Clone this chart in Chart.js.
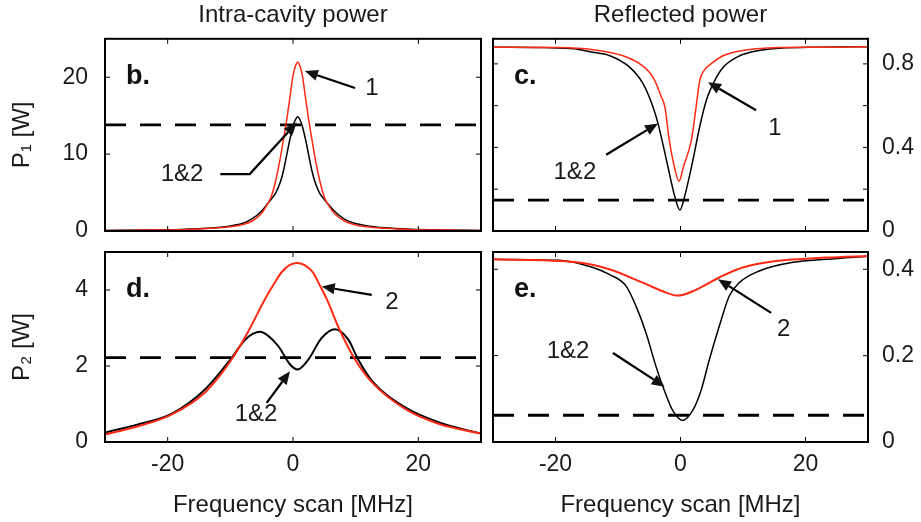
<!DOCTYPE html>
<html lang="en">
<head>
<meta charset="UTF-8" />
<title>Intra-cavity and reflected power</title>
<script src="https://cdn.jsdelivr.net/npm/chart.js"></script>
<style>
    body { margin: 0; background: #fff; }
    #wrap { position: relative; width: 921px; height: 522px; }
    canvas { position: absolute; }
</style>
</head>
<body>
<div id="wrap">
    <canvas id="chartB" style="left:0;top:0" width="487" height="240"></canvas>
    <canvas id="chartC" style="left:487px;top:0" width="434" height="240"></canvas>
    <canvas id="chartD" style="left:0;top:240px" width="487" height="282"></canvas>
    <canvas id="chartE" style="left:487px;top:240px" width="434" height="282"></canvas>
</div>

<script>
    const FONT = '"Liberation Sans", Arial, sans-serif';
    const RED = '#ff2a14';
    const INK = '#1a1a1a';

    // ticks shared by all panels
    const xTicks = [-20, 0, 20];
    const xTickLabels = ['-20', '0', '20'];

    // b. intra-cavity power P1
    const freqB = [-30, -22, -17, -13, -10, -8, -6.5, -5, -4, -3.5, -2.8, -2, -1.5, -1, -0.5, 0, 0.4, 0.75,
        1.1, 1.5, 2, 2.5, 3, 3.5, 4.2, 5, 5.7, 6.7, 8.2, 9.7, 11.7, 14.7, 18.7, 23.7, 30];
    const p1Cavity1 = [0.05, 0.12, 0.2, 0.35, 0.55, 0.85, 1.3, 2.3, 3.6, 4.4, 6.4, 9.6, 12.0, 14.5, 17.3, 20.2, 21.5, 21.95,
        21.5, 20.2, 17.3, 14.5, 12.0, 9.6, 6.8, 4.4, 3.3, 2.2, 1.3, 0.85, 0.55, 0.35, 0.2, 0.12, 0.06];
    const p1Both = [0.07, 0.14, 0.24, 0.4, 0.65, 1.0, 1.6, 2.6, 3.6, 4.1, 4.9, 6.4, 7.9, 9.9, 11.9, 13.6, 14.5, 14.86,
        14.5, 13.6, 11.9, 9.9, 7.9, 6.4, 5.0, 4.1, 3.4, 2.5, 1.55, 1.05, 0.7, 0.42, 0.24, 0.14, 0.08];
    const p1Threshold = 13.8;
    const yTicksB = [0, 10, 20];
    const yLabelsB = ['0', '10', '20'];

    // c. reflected power, cavity 1
    const freqC1 = [-30, -20, -14, -9.2, -6.5, -4.4, -3.05, -2.5, -1.8, -1, -0.25, 0.5, 1.75, 2.5, 3.07, 3.7, 5.2, 6.8, 9.5, 15.9, 22, 30];
    const refl1Cavity1 = [0.88, 0.878, 0.868, 0.839, 0.80, 0.736, 0.641, 0.594, 0.436, 0.31, 0.238, 0.31, 0.436, 0.594, 0.72, 0.765, 0.807, 0.839, 0.862, 0.878, 0.88, 0.882];
    const freqC2 = [-30, -22, -17, -14.5, -11.3, -8.1, -6, -4.4, -3.6, -2.26, -0.93, -0.1, 0.67, 2, 3.07, 4.14, 5.47, 6.8, 9.47, 12.1, 15.9, 22, 30];
    const refl1Both = [0.88, 0.878, 0.872, 0.858, 0.839, 0.783, 0.705, 0.594, 0.515, 0.341, 0.167, 0.10, 0.167, 0.341, 0.499, 0.626, 0.72, 0.783, 0.839, 0.862, 0.875, 0.88, 0.882];
    const refl1Threshold = 0.148;
    const yTicksC = [0, 0.2, 0.4, 0.6, 0.8];
    const yLabelsC = ['0', '', '0.4', '', '0.8'];

    // d. intra-cavity power P2
    const freqD1 = [-30, -25, -19.4, -14, -9.8, -7.1, -4.5, -3, -1.76, -0.5, 0.74, 2, 3.24, 4.04, 5.5, 7.2, 9.9, 12.6, 17.9, 23.2, 30];
    const p2Cavity2 = [0.2, 0.40, 0.72, 1.31, 2.17, 2.92, 3.75, 4.17, 4.48, 4.66, 4.71, 4.64, 4.45, 4.2, 3.72, 3.04, 2.17, 1.57, 0.87, 0.48, 0.22];
    const freqD2 = [-30, -25, -19.4, -14, -9.8, -7.6, -5.27, -4, -2.33, -0.47, 0.74, 2.45, 4.58, 6.7, 8.8, 10.4, 12.6, 17.9, 23.2, 30];
    const p2Both = [0.25, 0.45, 0.74, 1.39, 2.21, 2.70, 2.90, 2.80, 2.52, 2.04, 1.91, 2.17, 2.74, 2.97, 2.70, 2.17, 1.61, 0.91, 0.52, 0.22];
    const p2Threshold = 2.22;
    const yTicksD = [0, 2, 4];
    const yLabelsD = ['0', '2', '4'];

    // e. reflected power, cavity 2
    const freqE1 = [-30, -16.7, -11.4, -6.05, -2.3, -0.45, 1.95, 6.2, 9.95, 15.3, 23.3, 30];
    const refl2Cavity2 = [0.423, 0.416, 0.40, 0.369, 0.346, 0.339, 0.349, 0.381, 0.404, 0.419, 0.427, 0.431];
    const freqE2 = [-30, -19.4, -14, -11.4, -8.7, -7.1, -5.5, -3.9, -2.6, -1.25, 0.35, 1.95, 3.3, 4.6, 6.2, 7.8, 9.4, 12.6, 18, 23.3, 30];
    const refl2Both = [0.423, 0.421, 0.404, 0.388, 0.361, 0.314, 0.252, 0.174, 0.12, 0.073, 0.050, 0.073, 0.12, 0.19, 0.268, 0.338, 0.369, 0.396, 0.416, 0.423, 0.43];
    const refl2Threshold = 0.062;
    const yTicksE = [0, 0.2, 0.4];
    const yLabelsE = ['0', '0.2', '0.4'];

    // arrow notes, in data units: label centre + arrow path (last point = head)
    const notesB = [
        { text: '1', at: [12.6, 18.5], path: [[9.9, 18.6], [1.9, 20.8]] },
        { text: '1&2', at: [-17.7, 7.4], path: [[-11.6, 7.4], [-6.9, 7.4], [0.6, 14.1]] }
    ];
    const notesC = [
        { text: '1', at: [15.1, 0.49], path: [[12.1, 0.578], [4.4, 0.712]] },
        { text: '1&2', at: [-16.9, 0.282], path: [[-11.9, 0.365], [-3.6, 0.515]] }
    ];
    const notesD = [
        { text: '2', at: [15.8, 3.68], path: [[12.56, 3.87], [4.58, 4.09]] },
        { text: '1&2', at: [-5.9, 0.72], path: [[-4.2, 1.03], [-0.48, 1.86]] }
    ];
    const notesE = [
        { text: '2', at: [16.5, 0.26], path: [[14.5, 0.299], [6.0, 0.377]] },
        { text: '1&2', at: [-18.0, 0.211], path: [[-10.8, 0.206], [-2.53, 0.128]] }
    ];

    Chart.defaults.font.family = FONT;

    function decor(p) {
        return {
            id: 'decor',
            afterDatasetsDraw(chart) {
                const { ctx, chartArea: a, scales: { x, y } } = chart;
                ctx.save();
                // inward ticks on all sides
                ctx.strokeStyle = '#000';
                ctx.lineWidth = 1;
                ctx.beginPath();
                xTicks.forEach(v => {
                    const px = x.getPixelForValue(v);
                    ctx.moveTo(px, a.bottom); ctx.lineTo(px, a.bottom - 5);
                    ctx.moveTo(px, a.top); ctx.lineTo(px, a.top + 5);
                });
                p.yTicks.forEach(v => {
                    const py = y.getPixelForValue(v);
                    ctx.moveTo(a.left, py); ctx.lineTo(a.left + 5, py);
                    ctx.moveTo(a.right, py); ctx.lineTo(a.right - 5, py);
                });
                ctx.stroke();
                ctx.lineWidth = 2;
                ctx.strokeRect(a.left, a.top, a.right - a.left, a.bottom - a.top);

                // panel letter
                ctx.fillStyle = '#111';
                ctx.font = 'bold 27px ' + FONT;
                ctx.textAlign = 'left';
                ctx.textBaseline = 'alphabetic';
                ctx.fillText(p.letter, a.left + 21, a.top + 45);

                // arrows
                ctx.font = '24px ' + FONT;
                ctx.textAlign = 'center';
                ctx.textBaseline = 'middle';
                p.notes.forEach(n => {
                    const pts = n.path.map(([vx, vy]) => [x.getPixelForValue(vx), y.getPixelForValue(vy)]);
                    const [hx, hy] = pts[pts.length - 1];
                    const [qx, qy] = pts[pts.length - 2];
                    const ang = Math.atan2(hy - qy, hx - qx);
                    const L = 13, W = 5.5;
                    const bx = hx - L * Math.cos(ang), by = hy - L * Math.sin(ang);
                    ctx.lineWidth = 2.2;
                    ctx.beginPath();
                    ctx.moveTo(pts[0][0], pts[0][1]);
                    for (let i = 1; i < pts.length - 1; i++) ctx.lineTo(pts[i][0], pts[i][1]);
                    ctx.lineTo(bx, by);
                    ctx.stroke();
                    ctx.beginPath();
                    ctx.moveTo(hx, hy);
                    ctx.lineTo(bx + W * Math.sin(ang), by - W * Math.cos(ang));
                    ctx.lineTo(bx - W * Math.sin(ang), by + W * Math.cos(ang));
                    ctx.closePath();
                    ctx.fill();
                    ctx.fillStyle = INK;
                    ctx.fillText(n.text, x.getPixelForValue(n.at[0]), y.getPixelForValue(n.at[1]));
                    ctx.fillStyle = '#111';
                });
                ctx.restore();
            }
        };
    }

    function panel(id, o) {
        const datasets = o.series.map(s => ({
            data: s.x.map((v, i) => ({ x: v, y: s.y[i] })),
            borderColor: s.color,
            borderWidth: s.width,
            borderDash: s.dash || [],
            pointRadius: 0,
            fill: false,
            cubicInterpolationMode: 'monotone'
        }));
        const left = o.ypos === 'left';
        return new Chart(document.getElementById(id), {
            type: 'line',
            data: { datasets },
            options: {
                responsive: false,
                animation: false,
                layout: { padding: o.pad, autoPadding: false },
                plugins: {
                    legend: { display: false },
                    tooltip: { enabled: false },
                    title: o.title ? {
                        display: true, text: o.title, fullSize: false, color: INK,
                        font: { size: 24, weight: 'normal' }, padding: { top: 1, bottom: 9 }
                    } : { display: false }
                },
                scales: {
                    x: {
                        type: 'linear', min: -30, max: 30,
                        afterBuildTicks: s => { s.ticks = xTicks.map(v => ({ value: v })); },
                        afterFit: s => { s.height = o.xh; s.paddingLeft = 0; s.paddingRight = 0; },
                        grid: { display: false, drawTicks: false },
                        border: { display: false },
                        ticks: {
                            display: o.bottom, padding: 9, autoSkip: false, maxRotation: 0,
                            color: INK, font: { size: 23 },
                            callback: (v, i) => xTickLabels[i]
                        },
                        title: {
                            display: o.bottom, text: 'Frequency scan [MHz]', color: INK,
                            font: { size: 24 }, padding: { top: 0, bottom: 2 }
                        }
                    },
                    y: {
                        position: o.ypos, min: o.ymin, max: o.ymax,
                        afterBuildTicks: s => { s.ticks = o.yTicks.map(v => ({ value: v })); },
                        afterFit: s => { s.width = o.yw; s.paddingTop = 0; s.paddingBottom = 0; },
                        grid: { display: false, drawTicks: false },
                        border: { display: false },
                        ticks: {
                            padding: left ? 17 : 14, autoSkip: false, color: INK,
                            font: { size: 23 },
                            callback: (v, i) => o.yLabels[i]
                        },
                        title: o.ytitle ? {
                            display: true, text: o.ytitle, color: INK,
                            font: { size: 24 }, padding: { top: 8, bottom: 0 }
                        } : { display: false }
                    }
                }
            },
            plugins: [decor({ yTicks: o.yTicks, letter: o.letter, notes: o.notes })]
        });
    }

    const dash = [21, 14];

    panel('chartB', {
        title: 'Intra-cavity power', letter: 'b.', ypos: 'left', ytitle: 'P\u2081 [W]',
        ymin: 0, ymax: 25, yTicks: yTicksB, yLabels: yLabelsB, notes: notesB,
        pad: { left: 0, right: 6, top: 0, bottom: 0 }, yw: 105, xh: 9, bottom: false,
        series: [
            { x: freqB, y: p1Cavity1, color: RED, width: 1.5 },
            { x: freqB, y: p1Both, color: '#000', width: 1.5 },
            { x: [-30, 30], y: [p1Threshold, p1Threshold], color: '#000', width: 2.8, dash: dash }
        ]
    });

    panel('chartC', {
        title: 'Reflected power', letter: 'c.', ypos: 'right', ytitle: null,
        ymin: 0, ymax: 0.92, yTicks: yTicksC, yLabels: yLabelsC, notes: notesC,
        pad: { left: 6, right: 0, top: 0, bottom: 0 }, yw: 53, xh: 9, bottom: false,
        series: [
            { x: freqC1, y: refl1Cavity1, color: RED, width: 1.5 },
            { x: freqC2, y: refl1Both, color: '#000', width: 1.5 },
            { x: [-30, 30], y: [refl1Threshold, refl1Threshold], color: '#000', width: 2.8, dash: dash }
        ]
    });

    panel('chartD', {
        title: null, letter: 'd.', ypos: 'left', ytitle: 'P\u2082 [W]',
        ymin: 0, ymax: 5, yTicks: yTicksD, yLabels: yLabelsD, notes: notesD,
        pad: { left: 0, right: 6, top: 12, bottom: 0 }, yw: 105, xh: 80, bottom: true,
        series: [
            { x: freqD1, y: p2Cavity2, color: RED, width: 2 },
            { x: freqD2, y: p2Both, color: '#000', width: 2 },
            { x: [-30, 30], y: [p2Threshold, p2Threshold], color: '#000', width: 2.8, dash: dash }
        ]
    });

    panel('chartE', {
        title: null, letter: 'e.', ypos: 'right', ytitle: null,
        ymin: 0, ymax: 0.44, yTicks: yTicksE, yLabels: yLabelsE, notes: notesE,
        pad: { left: 6, right: 0, top: 12, bottom: 0 }, yw: 53, xh: 80, bottom: true,
        series: [
            { x: freqE1, y: refl2Cavity2, color: RED, width: 2 },
            { x: freqE2, y: refl2Both, color: '#000', width: 1.5 },
            { x: [-30, 30], y: [refl2Threshold, refl2Threshold], color: '#000', width: 2.8, dash: dash }
        ]
    });
</script>
</body>
</html>
